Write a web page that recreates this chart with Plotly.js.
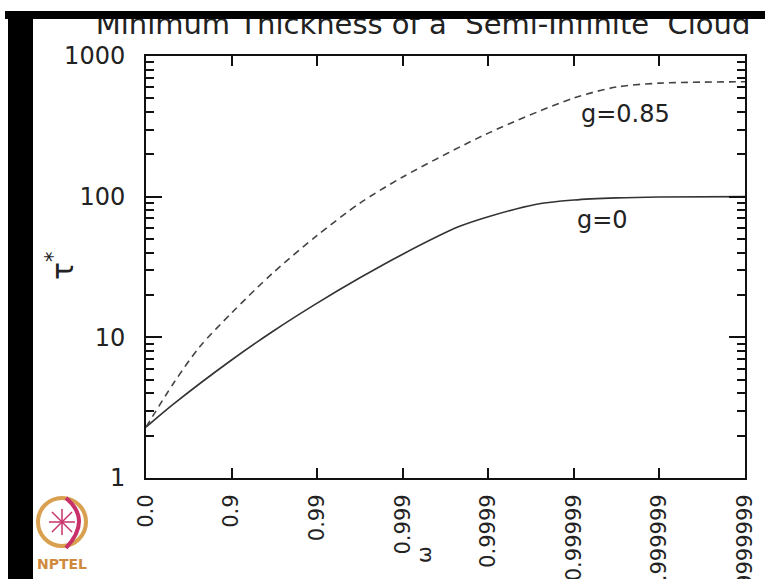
<!DOCTYPE html>
<html>
<head>
<meta charset="utf-8">
<script src="https://cdn.plot.ly/plotly-3.0.1.min.js"></script>
<style>
  html, body { margin:0; padding:0; background:#fff; }
  #wrap { position:relative; width:765px; height:579px; overflow:hidden; }
  #chart { position:absolute; left:0; top:0; width:765px; height:579px; }
  .bar { position:absolute; background:#000; }
</style>
</head>
<body>
<div id="wrap">
  <div id="chart"></div>
  <div class="bar" style="left:5px; top:11px; width:760px; height:8px;"></div>
  <div class="bar" style="left:8px; top:11px; width:25px; height:568px;"></div>
</div>
<script>
// omega categories (evenly spaced positions 0..7)
const omegaLabels = ["0.0", "0.9", "0.99", "0.999", "0.9999", "0.99999", "0.999999", "0.9999999"];
const omegaPos = [0, 1, 2, 3, 4, 5, 6, 7];

// g = 0 (solid)
const xG0 = [0, 0.32, 1, 1.48, 2, 2.5, 3, 3.65, 4, 4.55, 5, 5.5, 6, 7];
const tauG0 = [2.3, 3.35, 6.9, 11, 17.5, 26.5, 39, 61, 72, 88, 94.6, 98, 99.5, 100];

// g = 0.85 (dashed)
const xG85 = [0, 0.32, 0.63, 1, 1.48, 2, 2.5, 3, 4, 5, 5.5, 6, 7];
const tauG85 = [2.3, 4.7, 8.6, 14.9, 28.6, 53, 90, 138, 283, 503, 602, 641, 656];

const yTickVals = [1, 10, 100, 1000];
const yTickText = ["1", "10", "100", "1000"];

const lineColor = "#333333";
const axisFont = {family: "DejaVu Sans", size: 24, color: "#222"};

const traces = [
  {x: xG0, y: tauG0, type: "scatter", mode: "lines", name: "g=0",
   line: {color: lineColor, width: 1.6, shape: "spline", smoothing: 0.8}},
  {x: xG85, y: tauG85, type: "scatter", mode: "lines", name: "g=0.85",
   line: {color: "#444", width: 1.6, dash: "7px,5px", shape: "spline", smoothing: 0.8}}
];

const L = 146, R = 745, T = 56, B = 478;
function px(x) { return (x - L) / (R - L); }
function py(y) { return (B - y) / (B - T); }

function note(text, x, y, size, angle, color) {
  return {text: text, xref: "paper", yref: "paper", x: px(x), y: py(y),
          xanchor: "center", yanchor: "middle", textangle: angle || 0,
          showarrow: false, font: {family: "DejaVu Sans", size: size, color: color || "#222"}};
}

const layout = {
  width: 765, height: 579,
  margin: {l: L, r: 765 - R, t: T, b: 579 - B},
  paper_bgcolor: "#fff", plot_bgcolor: "#fff",
  showlegend: false,
  title: {text: "Minimum Thickness of a  Semi-Infinite  Cloud",
          font: {family: "DejaVu Sans", size: 29, color: "#222"},
          xref: "container", yref: "container", x: 0.553, xanchor: "center",
          y: 1 - 34 / 579, yanchor: "bottom"},
  xaxis: {
    range: [0, 7], tickvals: omegaPos, ticktext: omegaLabels,
    tickangle: -90, ticks: "inside", ticklen: 10, tickwidth: 2, tickcolor: "#111",
    showline: true, linewidth: 2, linecolor: "#111", mirror: "ticks",
    showgrid: false, zeroline: false, tickfont: {family: "DejaVu Sans", size: 21, color: "#222"},
    ticklabelstandoff: 6
  },
  yaxis: {
    type: "log", range: [0, 3], tickvals: yTickVals, ticktext: yTickText,
    ticks: "inside", ticklen: 16, tickwidth: 2, tickcolor: "#111",
    minor: {ticks: "inside", ticklen: 8, tickwidth: 2, tickcolor: "#111", dtick: "D1", showgrid: false},
    showline: true, linewidth: 2, linecolor: "#111", mirror: "ticks",
    showgrid: false, zeroline: false, tickfont: axisFont,
    ticklabelstandoff: 14
  },
  annotations: [
    note("g=0.85", 625, 114, 24),
    note("g=0", 602, 220, 24),
    note("τ<sup>*</sup>", 60, 266, 30, -90),
    note("ω", 424, 555, 20, -90),
    note("<b>NPTEL</b>", 62, 564, 14, 0, "#d08a3c")
  ],
  shapes: [
    {type: "circle", xref: "paper", yref: "paper",
     x0: px(38), x1: px(86), y0: py(498), y1: py(546),
     line: {color: "#d9a050", width: 4}},
    {type: "path", xref: "paper", yref: "paper",
     path: "M " + px(66) + "," + py(498) + " Q " + px(92) + "," + py(520) + " " + px(66) + "," + py(548),
     line: {color: "#c8306a", width: 4}},
    {type: "line", xref: "paper", yref: "paper", x0: px(52), x1: px(72), y0: py(512), y1: py(532), line: {color: "#c8306a", width: 1.5}},
    {type: "line", xref: "paper", yref: "paper", x0: px(72), x1: px(52), y0: py(512), y1: py(532), line: {color: "#c8306a", width: 1.5}},
    {type: "line", xref: "paper", yref: "paper", x0: px(62), x1: px(62), y0: py(509), y1: py(535), line: {color: "#c8306a", width: 1.5}},
    {type: "line", xref: "paper", yref: "paper", x0: px(49), x1: px(75), y0: py(522), y1: py(522), line: {color: "#c8306a", width: 1.5}}
  ]
};

Plotly.newPlot("chart", traces, layout, {displayModeBar: false, staticPlot: true});
</script>
</body>
</html>
